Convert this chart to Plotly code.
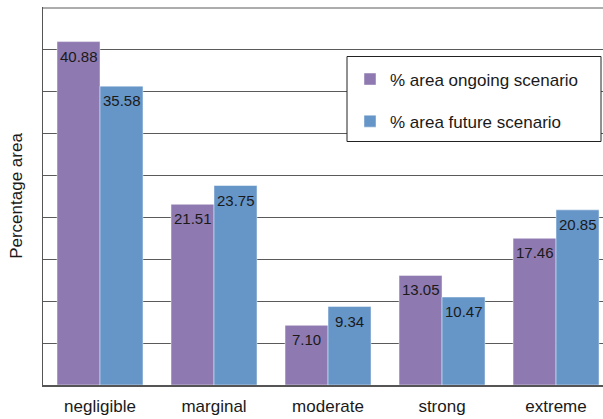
import plotly.graph_objects as go

categories = ["negligible", "marginal", "moderate", "strong", "extreme"]
ongoing = [40.88, 21.51, 7.10, 13.05, 17.46]
future = [35.58, 23.75, 9.34, 10.47, 20.85]
series_names = ["% area ongoing scenario", "% area future scenario"]

PURPLE = "#8e79b0"
BLUE = "#6695c8"
FONT = "Liberation Sans, Arial, sans-serif"
GRID = "#5a5a5a"
Y_MAX = 45

# half of the bar width in pixels, used to centre value labels on each bar
HALF_BAR = 21.5

fig = go.Figure()
for i, (name, vals, col) in enumerate(zip(series_names, [ongoing, future], [PURPLE, BLUE])):
    fig.add_trace(go.Bar(
        x=categories, y=vals, name=name,
        marker=dict(color=col, line=dict(color="rgba(255,255,255,0.45)", width=1)),
        legendgroup=f"g{i}",
    ))

annotations = []
for vals, shift in [(ongoing, -HALF_BAR), (future, HALF_BAR)]:
    for c, v in zip(categories, vals):
        annotations.append(dict(
            x=c, y=v, xref="x", yref="y", text=f"{v:.2f}", showarrow=False,
            xanchor="center", yanchor="top", xshift=shift, yshift=-4,
            font=dict(family=FONT, size=15, color="#1a1a1a"),
        ))

fig.update_layout(
    width=603, height=419,
    margin=dict(l=43, r=0, t=7, b=34, autoexpand=False),
    paper_bgcolor="white", plot_bgcolor="white",
    barmode="group", bargap=0.246, bargroupgap=0,
    font=dict(family=FONT, size=17, color="#1a1a1a"),
    showlegend=True,
    legend=dict(
        x=(350 - 43) / 560, y=(385.5 - 62) / 378, xanchor="left", yanchor="top",
        bgcolor="rgba(0,0,0,0)", borderwidth=0,
        font=dict(family=FONT, size=17, color="#1a1a1a"),
        tracegroupgap=17, traceorder="grouped",
    ),
    xaxis=dict(
        type="category", range=[-0.5, 4.412],
        showline=True, linecolor="#555555", linewidth=2,
        ticks="", showgrid=False, ticklabelstandoff=5,
        tickfont=dict(family=FONT, size=17, color="#1a1a1a"),
    ),
    yaxis=dict(
        range=[0, Y_MAX], dtick=5, showticklabels=False,
        showline=True, linecolor="#555555", linewidth=1,
        showgrid=True, gridcolor=GRID, gridwidth=1,
        zeroline=False, ticks="",
        title=dict(text="Percentage area", font=dict(family=FONT, size=17, color="#1a1a1a"), standoff=15),
    ),
    annotations=annotations,
    shapes=[
        # top gridline, nudged just inside the upper edge of the plot area
        dict(type="line", xref="paper", yref="y", ysizemode="pixel", yanchor=Y_MAX,
             x0=0, x1=1, y0=-1, y1=-1, layer="above",
             line=dict(color=GRID, width=1)),
        # legend frame
        dict(type="rect", xref="paper", yref="paper", layer="above",
             x0=(347 - 43) / 560, x1=(601 - 43) / 560,
             y0=(385.5 - 142) / 378, y1=(385.5 - 57) / 378,
             fillcolor="white", line=dict(color="#222222", width=1)),
    ],
)

fig.write_html("out.html")
